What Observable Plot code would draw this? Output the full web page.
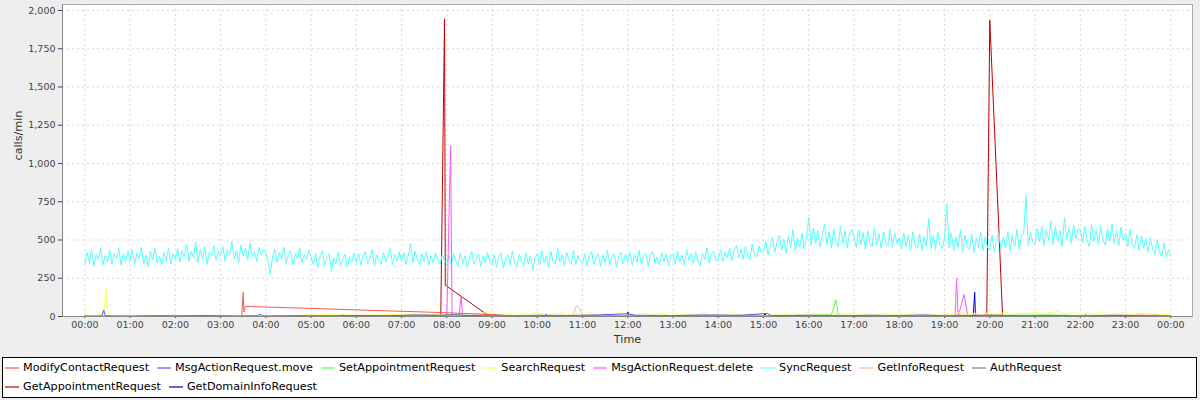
<!DOCTYPE html>
<html>
<head>
<meta charset="utf-8">
<script src="https://cdn.jsdelivr.net/npm/d3@7"></script>
<script src="https://cdn.jsdelivr.net/npm/@observablehq/plot@0.6"></script>
<style>
  html, body { margin: 0; padding: 0; background: #eeeeee; width: 1200px; height: 400px; overflow: hidden; }
  #chart { position: absolute; left: 0; top: 0; }
  #legend { position: absolute; left: 2px; top: 357px; width: 1195px; height: 41px; box-sizing: border-box;
            border: 1px solid #000; background: #fff; font-family: "DejaVu Sans", sans-serif; font-size: 11.2px; color: #000; }
  .lrow { display: flex; align-items: center; height: 19px; padding-left: 2px; }
  .litem { display: flex; align-items: center; margin-right: 8px; white-space: nowrap; }
  .litem svg { margin-right: 4px; }
</style>
</head>
<body>
<div id="chart"></div>
<div id="legend"></div>
<script>
// ---- tick labels ----
const hourLabels = ["00:00","01:00","02:00","03:00","04:00","05:00","06:00","07:00","08:00","09:00","10:00","11:00",
  "12:00","13:00","14:00","15:00","16:00","17:00","18:00","19:00","20:00","21:00","22:00","23:00","00:00"];
const yTicks = [0, 250, 500, 750, 1000, 1250, 1500, 1750, 2000];

// ---- series names & colours (legend order) ----
const seriesNames = ["ModifyContactRequest","MsgActionRequest.move","SetAppointmentRequest","SearchRequest",
  "MsgActionRequest.delete","SyncRequest","GetInfoRequest","AuthRequest","GetAppointmentRequest","GetDomainInfoRequest"];
const seriesColors = ["#ff5555","#5555ff","#55ff55","#ffff55","#ff55ff","#55ffff","#ffafaf","#808080","#c00000","#0000c0"];

// ---- SyncRequest: one value every 3 minutes, one row per hour ----
const syncValues = [
  345,420,352,438,330,405,372,446,338,398,360,432,342,415,375,450,335,410,358,428,
  362,440,338,415,380,452,345,402,325,428,370,445,350,395,338,420,365,448,342,410,
  378,445,355,430,392,470,360,425,385,488,352,440,372,455,340,418,395,462,368,430,
  395,458,362,440,405,492,375,430,352,468,398,445,370,480,388,425,358,452,402,438,
  410,365,275,395,440,352,418,378,455,345,402,430,338,412,380,448,350,405,372,432,
  388,340,412,318,395,428,335,382,410,292,385,345,420,330,375,408,322,392,355,415,
  352,410,338,395,425,345,382,438,330,402,368,342,418,355,395,445,338,405,362,420,
  362,418,340,402,478,350,428,372,338,410,360,425,335,398,352,418,370,342,405,365,
  350,398,335,412,362,325,415,345,398,318,380,425,340,372,408,330,395,352,420,360,
  340,405,322,392,418,315,375,402,338,428,352,320,405,365,332,415,345,398,305,385,
  410,335,432,350,395,322,425,362,340,445,355,402,330,418,368,342,435,338,400,360,
  348,412,330,395,425,338,388,410,325,402,352,435,335,392,410,322,398,420,345,405,
  360,420,335,405,350,432,338,395,415,328,402,425,350,390,335,418,362,408,330,400,
  408,345,428,358,402,335,438,365,412,348,420,360,332,415,372,448,350,408,425,362,
  372,435,360,420,382,448,365,430,465,385,440,375,458,398,370,472,405,388,462,415,
  425,490,402,478,515,420,488,532,435,505,412,528,450,568,432,512,455,545,440,522,
  650,462,578,478,562,452,535,605,470,552,445,572,485,455,590,478,558,448,540,568,
  528,450,568,470,548,440,562,482,458,580,470,540,445,555,488,462,572,452,545,478,
  515,442,545,455,528,430,555,465,448,540,432,520,458,640,450,530,438,550,468,445,
  505,738,450,545,428,520,452,565,425,530,458,440,540,418,512,448,550,432,522,450,
  440,530,418,508,545,435,520,450,555,428,535,458,570,442,525,545,790,462,555,485,
  475,575,488,588,462,565,498,625,472,590,492,560,458,648,505,580,478,598,510,570,
  570,478,588,498,455,600,488,565,470,592,502,465,578,492,605,478,560,462,585,498,
  545,455,570,472,448,535,430,525,448,510,420,515,438,405,498,420,395,480,388,438,
  395
];
const syncStep = 3; // minutes between samples

// ---- other series: [minute of day, calls/min] ----
const modifyContact = [[0,0],[208,0],[210,158],[211,30],[213,66],[472,26],[534,14],[560,5],[700,3],[900,2],[1100,3],[1300,2],[1440,0]];
const msgMove = [[0,3],[15,2],[23,5],[25,42],[27,5],[40,3],[60,2],[90,5],[120,4],[160,6],[200,3],[228,4],[232,15],[236,3],[280,5],
  [320,4],[360,6],[400,5],[440,10],[470,8],[490,12],[510,6],[540,10],[570,5],[600,8],[640,6],[680,10],[720,18],[730,8],[780,6],
  [820,10],[870,8],[905,20],[910,6],[960,8],[1000,5],[1040,8],[1080,6],[1110,10],[1140,5],[1170,6],[1200,8],[1240,5],[1280,6],
  [1320,4],[1360,8],[1400,5],[1440,3]];
const setAppointment = [[0,2],[120,3],[240,2],[360,4],[420,6],[480,8],[540,6],[600,5],[660,6],[720,4],[780,5],[840,6],[900,5],
  [960,8],[990,10],[996,110],[999,8],[1040,5],[1100,6],[1160,5],[1220,8],[1280,10],[1320,6],[1380,5],[1440,4]];
const search = [[0,25],[6,8],[12,5],[20,10],[26,30],[28,185],[30,40],[33,5],[45,8],[60,5],[90,8],[120,4],[150,6],[180,5],[210,8],
  [240,5],[270,6],[300,10],[330,12],[360,8],[390,10],[420,12],[450,15],[480,10],[510,18],
  [540,25],[550,8],[560,18],[570,5],[580,22],[590,10],[600,28],[610,6],[620,15],[630,24],[640,8],[650,20],[660,12],[670,26],
  [680,7],[690,18],[700,10],[710,24],[720,8],[730,16],[740,22],[750,6],[760,20],[770,12],[780,25],[790,8],[800,18],[810,10],
  [820,22],[830,6],[840,20],[850,14],[860,26],[870,8],[880,18],[890,12],[900,24],[910,6],[920,20],[930,10],[940,22],[950,8],
  [960,28],[970,12],[980,18],[990,6],[1000,22],[1010,14],[1020,26],[1030,8],[1040,20],[1050,10],[1060,24],[1070,12],[1080,18],
  [1090,8],[1100,26],[1110,14],[1120,20],[1130,8],[1140,24],[1150,12],[1160,28],[1170,10],[1180,22],[1190,14],[1200,26],
  [1210,8],[1220,30],[1230,12],[1240,22],[1250,16],[1260,28],[1270,10],[1280,24],[1290,35],[1300,14],[1310,26],[1320,10],
  [1330,22],[1340,16],[1350,28],[1360,12],[1370,20],[1380,24],[1390,10],[1400,22],[1410,14],[1420,18],[1430,12],[1440,15]];
const msgDelete = [[0,0],[300,0],[435,0],[437,15],[439,0],[480,0],[485,1115],[487,0],[496,0],[499,130],[501,0],[560,0],[600,3],
  [700,0],[800,2],[900,0],[1000,3],[1100,0],[1154,0],[1156,250],[1158,0],[1166,145],[1171,0],[1210,0],[1213,15],[1216,0],
  [1300,2],[1380,0],[1420,8],[1440,0]];
const getInfo = [[0,0],[200,2],[420,0],[433,18],[436,5],[470,8],[520,6],[600,5],[648,10],[652,70],[656,55],[660,8],[720,5],
  [800,4],[900,6],[1000,5],[1100,4],[1215,15],[1220,4],[1300,5],[1420,12],[1440,3]];
const auth = [[0,0],[1440,0]];
const getAppointment = [[0,0],[472,0],[477,1945],[478,205],[534,10],[600,0],[1196,0],[1200,1935],[1217,0],[1440,0]];
const getDomainInfo = [[0,0],[120,0],[122,5],[124,0],[300,0],[302,8],[304,0],[340,0],[342,12],[344,0],[450,0],[452,12],[454,0],
  [610,0],[612,15],[614,0],[718,0],[720,30],[722,0],[900,0],[902,18],[904,0],[1040,0],[1042,10],[1044,0],[1178,0],[1180,158],
  [1181,0],[1200,0],[1202,15],[1204,0],[1325,0],[1327,12],[1329,0],[1440,0]];

// ---- build series table ----
const syncPairs = syncValues.map((v, i) => [i * syncStep, v]);
const seriesData = [modifyContact, msgMove, setAppointment, search, msgDelete, syncPairs, getInfo, auth, getAppointment, getDomainInfo];
const rows = seriesData.map((pairs, k) => pairs.map(([t, v]) => ({series: seriesNames[k], t, v})));

const tickMinutes = hourLabels.map((_, i) => i * 60);
const xDomain = [-29.6, 1468.8];

// draw in reverse order (first series on top), like the original
const lineMarks = rows.map((data, k) => Plot.line(data, {x: "t", y: "v", stroke: seriesColors[k], strokeWidth: 1})).reverse();

const chart = Plot.plot({
  width: 1200,
  height: 357,
  marginLeft: 62,
  marginRight: 8,
  marginTop: 4,
  marginBottom: 41,
  style: {background: "transparent", fontFamily: "DejaVu Sans, sans-serif", fontSize: "9.5px", color: "#444"},
  x: {domain: xDomain, ticks: tickMinutes, tickFormat: d => hourLabels[Math.round(d / 60)], tickSize: 2, tickPadding: 3, label: null},
  y: {domain: [0, 2039], ticks: yTicks, tickFormat: d3.format(","), tickSize: 4, tickPadding: 3, label: null},
  marks: [
    Plot.frame({fill: "#ffffff", stroke: null}),
    Plot.ruleX(tickMinutes, {stroke: "#d8d8d8", strokeDasharray: "2,3"}),
    Plot.ruleY(yTicks.slice(1), {stroke: "#d8d8d8", strokeDasharray: "2,3"}),
    ...lineMarks,
    Plot.frame({stroke: "#aaaaaa"}),
    Plot.ruleY([0], {stroke: "#888888"}),
    Plot.ruleX([xDomain[0]], {stroke: "#888888"}),
    Plot.text(["Time"], {text: d => d, frameAnchor: "bottom", dy: 26, fontSize: 11.2, fill: "#333"}),
    Plot.text(["calls/min"], {text: d => d, frameAnchor: "left", dx: -44, rotate: -90, fontSize: 11.2, fill: "#333"})
  ]
});
document.getElementById("chart").appendChild(chart);

// ---- legend ----
const legend = document.getElementById("legend");
const legendRows = [seriesNames.slice(0, 8), seriesNames.slice(8)];
legendRows.forEach(names => {
  const row = document.createElement("div");
  row.className = "lrow";
  names.forEach(name => {
    const k = seriesNames.indexOf(name);
    const item = document.createElement("span");
    item.className = "litem";
    item.innerHTML = `<svg width="14" height="4"><line x1="0" x2="14" y1="2" y2="2" stroke="${seriesColors[k]}" stroke-width="1.2"/></svg><span>${name}</span>`;
    row.appendChild(item);
  });
  legend.appendChild(row);
});
</script>
</body>
</html>
